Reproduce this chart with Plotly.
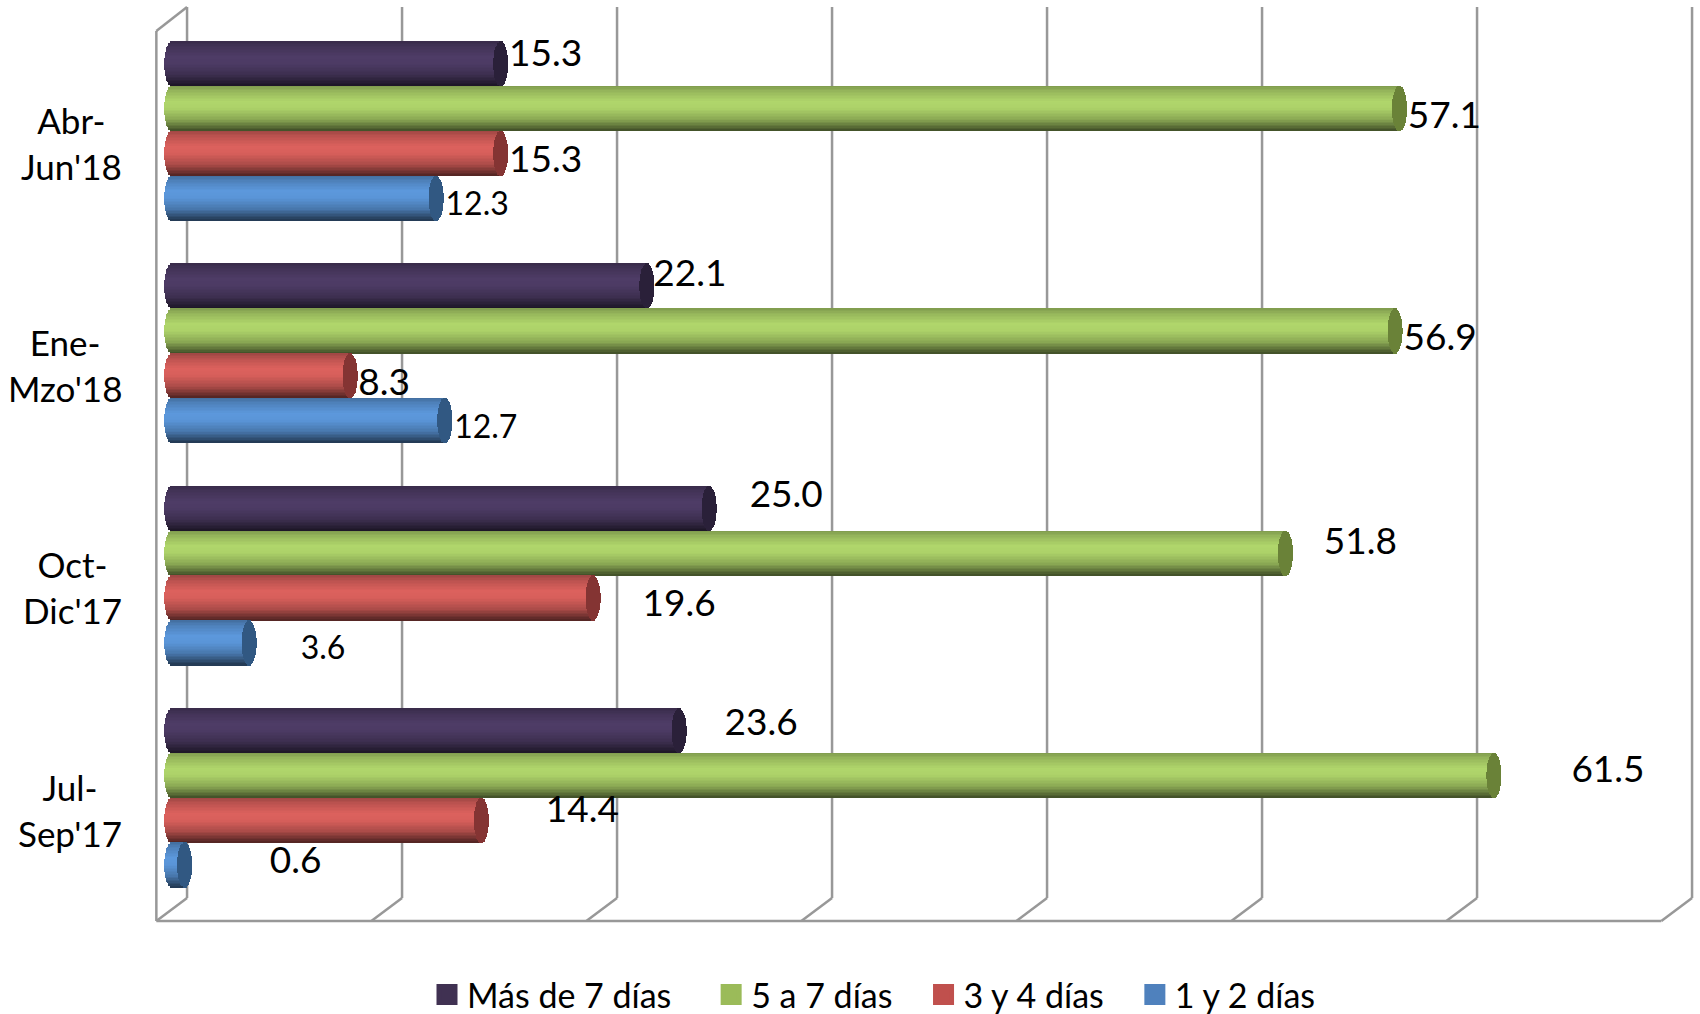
import math
import plotly.graph_objects as go

# ---------- data ----------
categories = ["Abr-<br>Jun'18", "Ene-<br>Mzo'18", "Oct-<br>Dic'17", "Jul-<br>Sep'17"]
series_names = ["Más de 7 días", "5 a 7 días", "3 y 4 días", "1 y 2 días"]
mas_de_7 = [15.3, 22.1, 25.0, 23.6]
de_5_a_7 = [57.1, 56.9, 51.8, 61.5]
de_3_y_4 = [15.3, 8.3, 19.6, 14.4]
de_1_y_2 = [12.3, 12.7, 3.6, 0.6]
series_values = [mas_de_7, de_5_a_7, de_3_y_4, de_1_y_2]

# ---------- styles ----------
legend_colors = ["#403152", "#9bbb59", "#c0504d", "#4f81bd"]
mid_colors = [(78, 60, 102), (176, 214, 107), (220, 97, 93), (92, 152, 220)]
cap_colors = ["#2a2039", "#6a8238", "#843433", "#315882"]
shade_stops = [(0, .72), (.12, .85), (.35, 1), (.5, .98), (.75, .78), (.92, .5), (1, .36)]
FONT = "Lato"

# label placement, px relative to bar tip and bar centre
label_dx = [[45, 43, 77, 82], [45, 45, 75, 114], [45, 34, 86, 101], [41, 41, 74, 111]]
label_dy = [[-7, -9, -11, -5], [10, 10, -9, -3], [9, 10, 9, -8], [9, 9, 8, -1]]
label_size = [[37] * 4, [37] * 4, [37] * 4, [32, 32, 32, 37]]

# ---------- geometry (px on the 1700x1014 page) ----------
W, H = 1700, 1014
X0, PX_PER_UNIT = 171.7, 21.5      # pixel of value 0 at mid depth
GROUP_TOP, GROUP_STEP, BAR_H = 41.5, 222.3, 44.8
CAP_A = 7.5
N_STRIPS = 30
DEPTH_X = 15.35
WALL_TOP, WALL_BOTTOM, FRONT_TOP, FRONT_BOTTOM = 7, 898, 31, 921
ticks = [0, 10, 20, 30, 40, 50, 60, 70]

xr = [(0 - X0) / PX_PER_UNIT, (W - X0) / PX_PER_UNIT]
cat_y = [3, 2, 1, 0]
y_c0 = GROUP_TOP + 2 * BAR_H   # px centre of group 0 (y=3)
yr = [3 - (H - y_c0) / GROUP_STEP, 3 + y_c0 / GROUP_STEP]
BAR_UNIT = BAR_H / GROUP_STEP


def py(p):
    return 3 + (y_c0 - p) / GROUP_STEP


def shade(rgb, t):
    for (t0, s0), (t1, s1) in zip(shade_stops, shade_stops[1:]):
        if t <= t1:
            s = s0 + (s1 - s0) * (t - t0) / (t1 - t0)
            break
    return "rgb(%d,%d,%d)" % tuple(round(c * s) for c in rgb)


fig = go.Figure()
a = CAP_A / PX_PER_UNIT
strip = BAR_UNIT / N_STRIPS
for s, (vals, mid, cap) in enumerate(zip(series_values, mid_colors, cap_colors)):
    ys, xs, bases, widths, colors = [], [], [], [], []
    caps = []
    for c, v in enumerate(vals):
        bar_center = cat_y[c] + (1.5 - s) * BAR_UNIT
        for k in range(N_STRIPS):
            t = (k + .5) / N_STRIPS
            y = bar_center + BAR_UNIT / 2 - t * BAR_UNIT
            e = a * math.sqrt(max(0, 1 - (2 * t - 1) ** 2))
            ys.append(y); bases.append(-e); xs.append(v + e)
            widths.append(strip * 1.5); colors.append(shade(mid, t))
            caps.append((y, v - e, 2 * e))
    for y, b, l in caps:
        ys.append(y); bases.append(b); xs.append(l)
        widths.append(strip * 1.5); colors.append(cap)
    fig.add_trace(go.Bar(orientation="h", y=ys, x=xs, base=bases, width=widths,
                         marker=dict(color=colors, line=dict(width=0)),
                         showlegend=False, hoverinfo="skip", name=series_names[s]))

# data labels
for s, vals in enumerate(series_values):
    lx = [v + label_dx[s][c] / PX_PER_UNIT for c, v in enumerate(vals)]
    ly = [cat_y[c] + (1.5 - s) * BAR_UNIT - label_dy[s][c] / GROUP_STEP for c in range(4)]
    fig.add_trace(go.Scatter(x=lx, y=ly, mode="text", text=["%.1f" % v for v in vals],
                             textposition="middle center",
                             textfont=dict(family=FONT, size=label_size[s], color="#000000"),
                             showlegend=False, hoverinfo="skip", cliponaxis=False))

# legend
legend_pad = [4, 3, 3, 3]
for name, col, pad in zip(series_names, legend_colors, legend_pad):
    fig.add_trace(go.Scatter(x=[None], y=[None], mode="markers", name=name + "\u00a0" * pad,
                             marker=dict(symbol="square", size=16, color=col,
                                         line=dict(width=5, color=col))))

# 3-D wall frame
WALL = dict(color="#989898", width=2.5)
def line(x0, y0, x1, y1):
    fig.add_shape(type="line", layer="below", xref="x", yref="y",
                  x0=x0, x1=x1, y0=py(y0), y1=py(y1), line=WALL)

dx = DEPTH_X / PX_PER_UNIT
for t in ticks:
    line(t + dx, WALL_TOP, t + dx, WALL_BOTTOM)
    line(t - dx, FRONT_BOTTOM, t + dx, WALL_BOTTOM)
line(-dx, FRONT_TOP, -dx, FRONT_BOTTOM)
line(-dx, FRONT_TOP, dx, WALL_TOP)
line(-dx, FRONT_BOTTOM, ticks[-1] - dx, FRONT_BOTTOM)

# category labels
for c, cat in enumerate(categories):
    fig.add_annotation(xref="paper", yref="y", x=124 / W, y=cat_y[c] - 11.5 / GROUP_STEP,
                       text=cat, showarrow=False, xanchor="right", yanchor="middle",
                       align="center", font=dict(family=FONT, size=35, color="#000000"))

fig.update_layout(
    width=W, height=H, margin=dict(l=0, r=0, t=0, b=0, autoexpand=False),
    paper_bgcolor="#ffffff", plot_bgcolor="#ffffff",
    barmode="overlay", bargap=0,
    xaxis=dict(range=xr, visible=False, fixedrange=True),
    yaxis=dict(range=yr, visible=False, fixedrange=True),
    legend=dict(orientation="h", x=427 / W, xanchor="left", y=1 - 995 / H, yanchor="middle",
                font=dict(family=FONT, size=34, color="#000000"),
                bgcolor="rgba(0,0,0,0)", itemclick=False),
    showlegend=True,
)
fig.write_html("out.html", config={"displayModeBar": False},
               post_script="document.body.style.margin='0';")
